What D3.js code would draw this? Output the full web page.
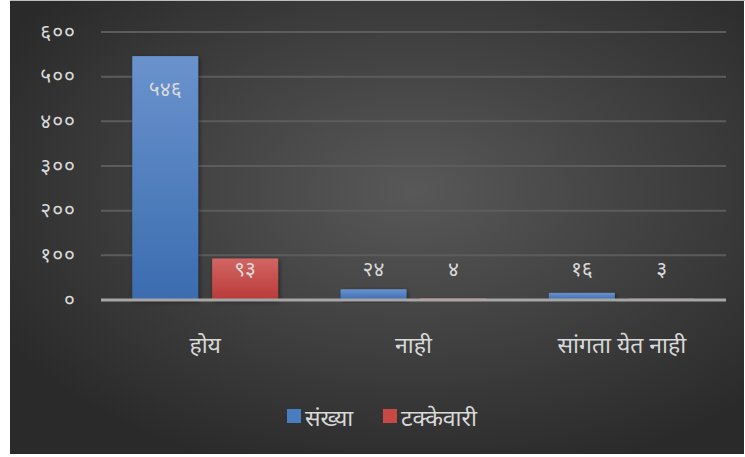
<!DOCTYPE html>
<html><head><meta charset="utf-8">
<script src="https://cdn.jsdelivr.net/npm/d3@7"></script>
<style>
html,body{margin:0;padding:0;background:#fff;}
svg{display:block;}
text{font-family:"Noto Sans Devanagari","Noto Sans","Lohit Devanagari","FreeSans",sans-serif;fill:#d9d9d9;}
</style></head><body>
<script>
const categories = ["होय", "नाही", "सांगता येत नाही"];
const seriesNames = ["संख्या", "टक्केवारी"];
const countValues = [546, 24, 16];
const percentValues = [93, 4, 3];
const countLabels = ["५४६", "२४", "१६"];
const percentLabels = ["९३", "४", "३"];
const yTicks = [0, 100, 200, 300, 400, 500, 600];
const yTickLabels = ["०", "१००", "२००", "३००", "४००", "५००", "६००"];

const W = 745, H = 457;
const svg = d3.select("body").append("svg").attr("width", W).attr("height", H);
const defs = svg.append("defs");

const bg = defs.append("radialGradient").attr("id","bg").attr("cx","0.55").attr("cy","0.42").attr("r","0.65");
bg.append("stop").attr("offset","0").attr("stop-color","#585858");
bg.append("stop").attr("offset","1").attr("stop-color","#2a2a2a");

const gBlue = defs.append("linearGradient").attr("id","gb").attr("x1",0).attr("y1",0).attr("x2",0).attr("y2",1);
gBlue.append("stop").attr("offset",0).attr("stop-color","#6a93cd");
gBlue.append("stop").attr("offset",1).attr("stop-color","#3b6cb0");
const gRed = defs.append("linearGradient").attr("id","gr").attr("x1",0).attr("y1",0).attr("x2",0).attr("y2",1);
gRed.append("stop").attr("offset",0).attr("stop-color","#d26664");
gRed.append("stop").attr("offset",1).attr("stop-color","#b93a38");
const sh = defs.append("filter").attr("id","sh").attr("x","-20%").attr("y","-20%").attr("width","140%").attr("height","140%");
sh.append("feDropShadow").attr("dx",1.5).attr("dy",1.5).attr("stdDeviation",2).attr("flood-color","#000").attr("flood-opacity",0.45);

svg.append("rect").attr("x",10).attr("y",1).attr("width",W-11).attr("height",453).attr("fill","url(#bg)");
svg.append("line").attr("x1",10).attr("x2",W).attr("y1",0.5).attr("y2",0.5).attr("stroke","#bdbdbd").attr("stroke-width",1);

const x0 = d3.scaleBand().domain(categories).range([101, 726]).paddingInner(0.3).paddingOuter(0.15);
const x1 = d3.scaleBand().domain(seriesNames).range([0, x0.bandwidth()]).paddingInner(0.175);
const y = d3.scaleLinear().domain([0, 600]).range([300, 32]);

// gridlines
svg.append("g").selectAll("line").data(yTicks.filter(d=>d>0)).join("line")
  .attr("x1",101).attr("x2",726).attr("y1",d=>y(d)).attr("y2",d=>y(d))
  .attr("stroke","#5c5c5c").attr("stroke-width",2);

// y axis labels
const yAxis = d3.axisLeft(y).tickValues(yTicks).tickFormat((d,i)=>yTickLabels[i]).tickSize(0).tickPadding(0);
const ya = svg.append("g").attr("transform","translate(76,0)").call(yAxis);
ya.select(".domain").remove();
ya.selectAll("text").attr("font-size",21).style("fill","#d9d9d9").attr("dy","0.3em").attr("letter-spacing","1px");

const data = categories.map((c,i)=>({c, vals:[
  {s:seriesNames[0], v:countValues[i], l:countLabels[i], f:"url(#gb)"},
  {s:seriesNames[1], v:percentValues[i], l:percentLabels[i], f:"url(#gr)"}]}));

const groups = svg.append("g").selectAll("g").data(data).join("g")
  .attr("transform",d=>`translate(${x0(d.c)},0)`);
groups.selectAll("rect").data(d=>d.vals).join("rect")
  .attr("x",d=>x1(d.s)).attr("width",x1.bandwidth())
  .attr("y",d=>y(d.v)).attr("height",d=>y(0)-y(d.v))
  .attr("fill",d=>d.f).attr("filter","url(#sh)");

// baseline axis
svg.append("line").attr("x1",101).attr("x2",726).attr("y1",y(0)).attr("y2",y(0))
  .attr("stroke","#a6a6a6").attr("stroke-width",3);

groups.selectAll("text.lbl").data(d=>d.vals).join("text").attr("class","lbl")
  .attr("x",d=>x1(d.s)+x1.bandwidth()/2)
  .attr("y",d=>Math.min(y(d.v)+34, y(0)-30))
  .attr("text-anchor","middle").attr("dy","0.3em").attr("font-size",21)
  .text(d=>d.l);

// category axis
const xAxis = d3.axisBottom(x0).tickSize(0).tickPadding(0);
const xa = svg.append("g").attr("transform","translate(0,346)").call(xAxis);
xa.select(".domain").remove();
xa.selectAll("text").attr("font-size",23).attr("dy","0.32em").style("fill","#d9d9d9");

// legend
const legend = svg.append("g");
const legItems = [{n:seriesNames[0], c:"#4a7cc2", x:287},{n:seriesNames[1], c:"#c84846", x:383}];
legItems.forEach(it=>{
  legend.append("rect").attr("x",it.x).attr("y",409).attr("width",14).attr("height",14).attr("fill",it.c);
  legend.append("text").attr("x",it.x+18).attr("y",419).attr("dy","0.32em").attr("font-size",23).text(it.n);
});
</script>
</body></html>
